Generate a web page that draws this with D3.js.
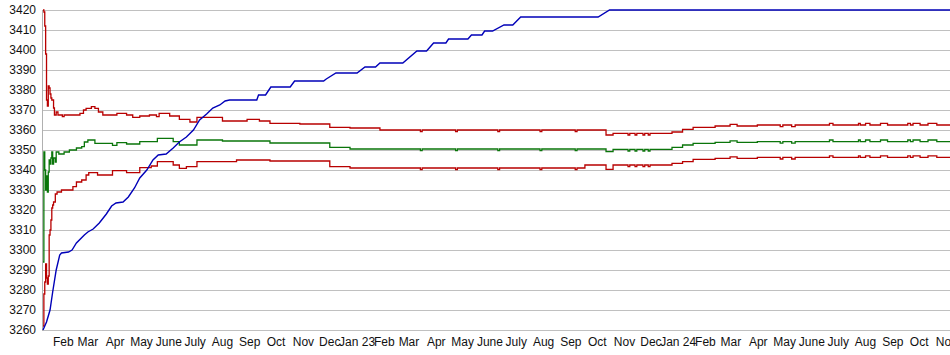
<!DOCTYPE html>
<html><head><meta charset="utf-8">
<script src="https://cdn.jsdelivr.net/npm/d3@7"></script>
<style>
body{margin:0;background:#fff}
svg{display:block}
text{font-family:"Liberation Sans",Arial,sans-serif;font-size:12px;fill:#111}
</style>
</head><body>
<svg id="chart" width="950" height="355"></svg>
<script>
// ---- data ----
const yTickValues = [3260,3270,3280,3290,3300,3310,3320,3330,3340,3350,3360,3370,3380,3390,3400,3410,3420];
const monthTickDates = ["2022-02-01","2022-03-01","2022-04-01","2022-05-01","2022-06-01","2022-07-01","2022-08-01","2022-09-01","2022-10-01","2022-11-01","2022-12-01",
  "2023-01-01","2023-02-01","2023-03-01","2023-04-01","2023-05-01","2023-06-01","2023-07-01","2023-08-01","2023-09-01","2023-10-01","2023-11-01","2023-12-01",
  "2024-01-01","2024-02-01","2024-03-01","2024-04-01","2024-05-01","2024-06-01","2024-07-01","2024-08-01","2024-09-01","2024-10-01","2024-11-01"];
const monthTickLabels = ["Feb","Mar","Apr","May","June","July","Aug","Sep","Oct","Nov","Dec",
  "Jan 23","Feb","Mar","Apr","May","June","July","Aug","Sep","Oct","Nov","Dec",
  "Jan 24","Feb","Mar","Apr","May","June","July","Aug","Sep","Oct","Nov"];
const dateRange = ["2022-01-09","2024-11-05"];

const blueSeries = [["2022-01-09",3260],["2022-01-13",3264],["2022-01-17",3270],["2022-01-20",3279],["2022-01-24",3290],["2022-01-28",3297.5],["2022-01-30",3298.5],["2022-02-07",3299],["2022-02-11",3300],["2022-02-16",3303.5],["2022-02-25",3307.5],["2022-03-01",3309],["2022-03-07",3310.5],["2022-03-14",3313.5],["2022-03-22",3318],["2022-03-28",3322],["2022-04-02",3323.5],["2022-04-10",3324],["2022-04-16",3326.5],["2022-04-23",3331],["2022-04-29",3336],["2022-05-07",3340],["2022-05-14",3345],["2022-05-20",3347.5],["2022-05-29",3348],["2022-06-06",3351],["2022-06-13",3354],["2022-06-21",3356.5],["2022-06-29",3360],["2022-07-06",3365],["2022-07-14",3368],["2022-07-21",3371],["2022-07-29",3372.5],["2022-08-04",3374.5],["2022-08-09",3375],["2022-09-09",3375],["2022-09-11",3377.5],["2022-09-19",3377.5],["2022-09-25",3381.5],["2022-10-17",3381.5],["2022-10-22",3384.5],["2022-11-24",3384.5],["2022-11-27",3385.5],["2022-12-08",3388.5],["2023-01-01",3388.5],["2023-01-10",3391.5],["2023-01-22",3391.5],["2023-01-27",3393.5],["2023-02-22",3393.5],["2023-03-10",3399.5],["2023-03-21",3399.5],["2023-03-29",3403.5],["2023-04-12",3403.5],["2023-04-15",3405.5],["2023-05-07",3405.5],["2023-05-11",3407.5],["2023-05-23",3407.5],["2023-05-26",3409.5],["2023-06-04",3409.5],["2023-06-17",3412.5],["2023-06-27",3412.5],["2023-07-06",3416.5],["2023-10-02",3416.5],["2023-10-15",3420],["2024-11-05",3420]];

const upperSeries = [["2022-01-09",3420],["2022-01-10",3419],["2022-01-11",3412],["2022-01-12",3398],["2022-01-13",3375],["2022-01-14",3372],["2022-01-15",3382],["2022-01-16",3381],["2022-01-17",3378],["2022-01-18",3376],["2022-01-19",3375],["2022-01-21",3371],["2022-01-22",3367.5],["2022-01-24",3369],["2022-01-26",3367.5],["2022-01-31",3366.7],["2022-02-02",3367.5],["2022-02-20",3368.3],["2022-02-24",3370],["2022-02-27",3370.8],["2022-03-05",3371.7],["2022-03-09",3370.8],["2022-03-13",3369],["2022-03-18",3367.5],["2022-04-03",3368.3],["2022-04-14",3367.5],["2022-04-21",3366.3],["2022-04-29",3367],["2022-05-10",3367.5],["2022-05-18",3366.7],["2022-05-21",3368.3],["2022-06-02",3367],["2022-06-13",3365.3],["2022-06-25",3364],["2022-07-03",3366.3],["2022-08-01",3364.5],["2022-08-29",3365.3],["2022-09-12",3364.5],["2022-09-24",3363.3],["2022-10-28",3363],["2022-12-01",3361.3],["2022-12-24",3361],["2023-01-27",3360],
  ["2023-03-14",3359.2],["2023-03-16",3360],["2023-04-23",3359.2],["2023-04-25",3360],["2023-06-10",3359.2],["2023-06-12",3360],["2023-07-28",3359.2],["2023-07-30",3360],["2023-09-06",3359.2],["2023-09-08",3360],
  ["2023-10-11",3357.5],["2023-10-19",3358.3],["2023-11-05",3357.5],["2023-11-07",3358.3],["2023-11-13",3357.5],["2023-11-15",3358.3],["2023-11-22",3357.5],["2023-11-24",3358.3],["2023-11-28",3357.5],["2023-11-30",3358.3],
  ["2023-12-25",3359],["2024-01-06",3360.3],["2024-01-18",3361.3],["2024-02-12",3362],["2024-02-29",3362.8],["2024-03-08",3362],["2024-03-31",3362.5],["2024-04-26",3361.7],["2024-04-29",3362.5],["2024-05-09",3361.7],["2024-05-13",3362.5],["2024-06-21",3363.3],["2024-06-25",3362.5],["2024-07-24",3363.3],["2024-07-26",3362.5],["2024-08-01",3363.3],["2024-08-06",3362.5],["2024-08-18",3363.3],["2024-08-26",3362.5],["2024-09-18",3363.3],["2024-09-21",3362.5],["2024-09-24",3363.3],["2024-10-02",3362.5],["2024-10-11",3363.3],["2024-10-21",3362.5],["2024-11-05",3362.5]];

const middleSeries = [["2022-01-09",3294],["2022-01-10",3349],["2022-01-11",3340],["2022-01-12",3330],["2022-01-13",3337],["2022-01-14",3329],["2022-01-15",3339],["2022-01-16",3345],["2022-01-17",3343],["2022-01-18",3346],["2022-01-19",3349],["2022-01-20",3343],["2022-01-21",3346],["2022-01-23",3344],["2022-01-24",3349],["2022-01-27",3348],["2022-02-02",3349],["2022-02-08",3350],["2022-02-16",3351],["2022-02-22",3351.7],["2022-02-25",3354],["2022-03-01",3355],["2022-03-09",3353.3],["2022-03-29",3352.3],["2022-04-03",3353.7],["2022-04-14",3353],["2022-04-29",3354.2],["2022-05-19",3355.8],["2022-06-06",3354.2],["2022-06-13",3352.5],["2022-07-03",3355],["2022-08-01",3354.5],["2022-09-24",3353.5],["2022-12-01",3351.3],["2022-12-24",3350.5],
  ["2023-03-14",3349.7],["2023-03-16",3350.5],["2023-04-23",3349.7],["2023-04-25",3350.5],["2023-06-10",3349.7],["2023-06-12",3350.5],["2023-07-28",3349.7],["2023-07-30",3350.5],["2023-09-06",3349.7],["2023-09-08",3350.5],
  ["2023-10-11",3349.2],["2023-10-19",3350.3],["2023-11-05",3349.5],["2023-11-07",3350.3],["2023-11-13",3349.5],["2023-11-15",3350.3],["2023-11-22",3349.5],["2023-11-24",3350.3],["2023-11-28",3349.5],["2023-11-30",3350.3],
  ["2023-12-25",3351.3],["2024-01-06",3352.5],["2024-01-18",3353.3],["2024-02-12",3353.8],["2024-02-29",3354.6],["2024-03-08",3353.8],["2024-03-31",3354.2],["2024-04-26",3353.4],["2024-04-29",3354.2],["2024-05-09",3353.4],["2024-05-13",3354.2],["2024-06-21",3355],["2024-06-25",3354.2],["2024-07-24",3355],["2024-07-26",3354.2],["2024-08-01",3355],["2024-08-06",3354.2],["2024-08-18",3355],["2024-08-26",3354.2],["2024-09-18",3355],["2024-09-21",3354.2],["2024-09-24",3355],["2024-10-02",3354.2],["2024-10-11",3355],["2024-10-21",3354.2],["2024-11-05",3354.2]];

const lowerSeries = [["2022-01-09",3262],["2022-01-10",3278],["2022-01-11",3284],["2022-01-12",3293],["2022-01-13",3286],["2022-01-14",3283],["2022-01-15",3287],["2022-01-16",3307.5],["2022-01-17",3310],["2022-01-18",3315],["2022-01-19",3321],["2022-01-20",3322.5],["2022-01-21",3324],["2022-01-23",3328],["2022-01-25",3329],["2022-01-30",3330],["2022-02-12",3331.7],["2022-02-16",3334],["2022-02-22",3335],["2022-02-27",3337.5],["2022-03-02",3338.7],["2022-03-12",3337.5],["2022-03-29",3339.7],["2022-04-14",3338.7],["2022-04-29",3341.2],["2022-05-12",3342],["2022-05-19",3344.2],["2022-06-06",3342.5],["2022-06-13",3340.8],["2022-06-21",3341.7],["2022-07-03",3344.2],["2022-08-17",3345],["2022-09-24",3344.5],["2022-12-01",3341.7],["2022-12-24",3341],
  ["2023-03-14",3340.2],["2023-03-16",3341],["2023-04-23",3340.2],["2023-04-25",3341],["2023-06-10",3340.2],["2023-06-12",3341],["2023-07-28",3340.2],["2023-07-30",3341],["2023-09-06",3340.2],["2023-09-08",3341],
  ["2023-09-17",3342.5],["2023-10-11",3340.3],["2023-10-19",3342.5],["2023-11-05",3341.7],["2023-11-07",3342.5],["2023-11-13",3341.7],["2023-11-15",3342.5],["2023-11-22",3341.7],["2023-11-24",3342.5],["2023-11-28",3341.7],["2023-11-30",3342.5],
  ["2023-12-25",3343.3],["2024-01-06",3344.2],["2024-01-18",3345.3],["2024-02-12",3345.8],["2024-02-29",3346.6],["2024-03-08",3345.8],["2024-03-31",3346.3],["2024-04-26",3345.5],["2024-04-29",3346.3],["2024-05-09",3345.5],["2024-05-13",3346.3],["2024-06-21",3347.1],["2024-06-25",3346.3],["2024-07-24",3347.1],["2024-07-26",3346.3],["2024-08-01",3347.1],["2024-08-06",3346.3],["2024-08-18",3347.1],["2024-08-26",3346.3],["2024-09-18",3347.1],["2024-09-21",3346.3],["2024-09-24",3347.1],["2024-10-02",3346.3],["2024-10-11",3347.1],["2024-10-21",3346.3],["2024-11-05",3346.3]];

// ---- drawing ----
const parse = d3.timeParse("%Y-%m-%d");
const svg = d3.select("#chart");
const plotLeft = 43, plotRight = 950, plotTop = 10, plotBottom = 330;

const x = d3.scaleTime().domain(dateRange.map(parse)).range([plotLeft, plotRight]);
const y = d3.scaleLinear().domain([3260, 3420]).range([plotBottom, plotTop]);

// horizontal grid
svg.append("g").selectAll("line").data(yTickValues).join("line")
  .attr("x1", plotLeft).attr("x2", plotRight)
  .attr("y1", d => Math.round(y(d)) + 0.5).attr("y2", d => Math.round(y(d)) + 0.5)
  .attr("stroke", "#c0c0c0").attr("stroke-width", 1);
// left axis line
svg.append("line").attr("x1", plotLeft - 0.5).attr("x2", plotLeft - 0.5)
  .attr("y1", y(3420)).attr("y2", y(3260) + 1)
  .attr("stroke", "#b0b0b0");

// y labels
svg.append("g").selectAll("text").data(yTickValues).join("text")
  .attr("x", 36).attr("y", d => y(d) + 4)
  .attr("text-anchor", "end").text(d => d);

// x labels
svg.append("g").selectAll("text").data(monthTickDates).join("text")
  .attr("x", d => x(parse(d))).attr("y", 346)
  .attr("text-anchor", "middle").text((d, i) => monthTickLabels[i]);

const stepLine = d3.line().curve(d3.curveStepAfter)
  .x(d => x(parse(d[0]))).y(d => y(d[1]));
const linLine = d3.line().curve(d3.curveLinear)
  .x(d => x(parse(d[0]))).y(d => y(d[1]));

const lines = svg.append("g").attr("fill", "none").attr("stroke-linejoin", "miter");
lines.append("path").datum(upperSeries).attr("d", stepLine).attr("stroke", "#b80000").attr("stroke-width", 1.3);
lines.append("path").datum(lowerSeries).attr("d", stepLine).attr("stroke", "#b80000").attr("stroke-width", 1.3);
lines.append("path").datum(middleSeries).attr("d", stepLine).attr("stroke", "#0a750a").attr("stroke-width", 1.3);
lines.append("path").datum(blueSeries).attr("d", linLine).attr("stroke", "#0000b8").attr("stroke-width", 1.4);
</script>
</body></html>
